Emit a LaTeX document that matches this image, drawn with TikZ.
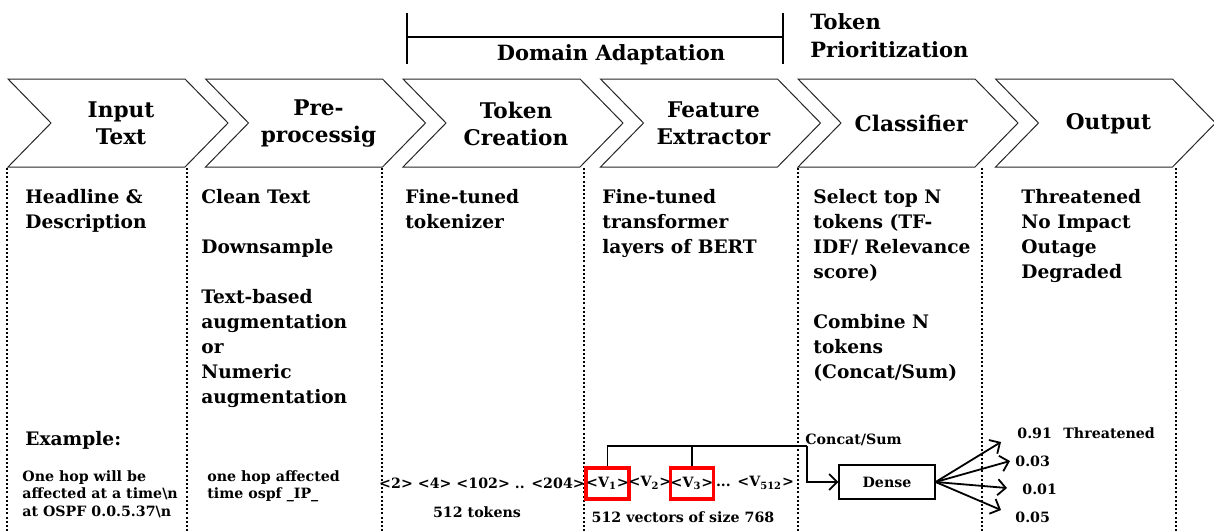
\documentclass[tikz,border=0pt]{standalone}
\usepackage{fontspec}
\setmainfont{DejaVu Serif}
\usetikzlibrary{arrows.meta,positioning}

\tikzstyle{chev}=[draw=black!85,line width=0.5pt]
\tikzstyle{chevlabel}=[align=center,inner sep=0pt,font=\bfseries\fontsize{10.8}{13.5}\selectfont]
\tikzstyle{headtext}=[align=left,inner sep=0pt,font=\bfseries\fontsize{10.5}{14}\selectfont]
\tikzstyle{coltext}=[align=left,anchor=north west,inner sep=0pt,font=\bfseries\fontsize{9.3}{12.5}\selectfont]
\tikzstyle{smalltext}=[align=left,inner sep=0pt,font=\bfseries\fontsize{7.1}{8.7}\selectfont]
\tikzstyle{dotline}=[line width=1.3pt,dash pattern=on 1pt off 1.1pt]
\tikzstyle{vbox}=[draw=red,line width=1.8pt,minimum width=20.5pt,minimum height=15.5pt,inner sep=0pt]
\tikzstyle{link}=[line width=0.9pt]
\tikzstyle{arr}=[line width=0.9pt,-{Straight Barb[length=4pt,width=8pt]}]

\begin{document}
\begin{tikzpicture}[x=0.5pt,y=-0.5pt]
  \useasboundingbox (0,0) rectangle (1214,531);

  % bracket over the two middle stages
  \draw[line width=0.8pt] (407,13) -- (407,64);
  \draw[line width=0.8pt] (407,37) -- (783,37);
  \draw[line width=0.8pt] (783,13) -- (783,64);
  \node[headtext] (dom) at (611,55) {Domain Adaptation};
  \node[headtext,anchor=west] (prio) at (810,36) {Token\\Prioritization};

  % the six stages
  \foreach \i/\nm/\lbl in {0/inp/{Input\\Text},1/pre/{Pre-\\processig},2/tok/{Token\\Creation},3/feat/{Feature\\Extractor},4/cls/{Classifier},5/out/{Output}}{
    \draw[chev] ({8+197.5*\i},79) -- ++(177,0) -- ++(43,44) -- ++(-43,44) -- ++(-177,0) -- ++(43,-44) -- cycle;
    \node[chevlabel] (\nm) at ({121+197.5*\i},123.5) {\lbl};
  }

  % column separators
  \foreach \x in {7,187,382,584,798,982,1176}
    \draw[dotline] (\x,168) -- (\x,531);

  % column texts
  \node[coltext] (c1) at (25,189) {Headline \&\\Description};
  \node[coltext] (c2) at (201,189) {Clean Text\\[12.5pt]Downsample\\[12.5pt]Text-based\\augmentation\\or\\Numeric\\augmentation};
  \node[coltext] (c3) at (405,189) {Fine-tuned\\tokenizer};
  \node[coltext] (c4) at (602,189) {Fine-tuned\\transformer\\layers of BERT};
  \node[coltext] (c5) at (813,189) {Select top N\\tokens (TF-\\IDF/ Relevance\\score)\\[12.5pt]Combine N\\tokens\\(Concat/Sum)};
  \node[coltext] (c6) at (1021,189) {Threatened\\No Impact\\Outage\\Degraded};

  % example row
  \node[coltext,anchor=west] (ex) at (25,440) {Example:};
  \node[smalltext,anchor=north west] (exin) at (22,470) {One hop will be\\affected at a time\textbackslash n\\at OSPF 0.0.5.37\textbackslash n};
  \node[smalltext,anchor=north west] (expre) at (207,470) {one hop affected\\time ospf \_IP\_};
  \node[smalltext] (toks) at (482,483) {<2> <4> <102> .. <204>};
  \node[smalltext] (ntok) at (477,512) {512 tokens};
  \node[smalltext,vbox] (v1) at (607.5,483.5) {<V\textsubscript{1}>};
  \node[smalltext] (v2) at (650,483) {<V\textsubscript{2}>};
  \node[smalltext,vbox] (v3) at (692,483.5) {<V\textsubscript{3}>};
  \node[smalltext] (vlast) at (755,483) {... <V\textsubscript{512}>};
  \node[smalltext] (nvec) at (683,517) {512 vectors of size 768};

  \node[smalltext,draw,line width=0.6pt,minimum width=48pt,minimum height=17pt,align=center] (dense) at (887,482) {Dense};
  \coordinate (cs) at (807,446);
  \draw[link] (v1.north) -- (v1.north |- cs) -- (cs);
  \draw[link] (v3.north) -- (v3.north |- cs);
  \draw[arr] (cs) |- (dense.west);
  \node[smalltext,anchor=west] (concat) at (805,440) {Concat/Sum};

  % class scores
  \node[smalltext,anchor=west] (p1) at (1017,433) {0.91};
  \node[smalltext,anchor=west] (thr) at (1063,433) {Threatened};
  \node[smalltext,anchor=west] (p2) at (1015,461) {0.03};
  \node[smalltext,anchor=west] (p3) at (1022,489) {0.01};
  \node[smalltext,anchor=west] (p4) at (1015,517) {0.05};
  \coordinate (o1) at (1001,442);
  \coordinate (o2) at (1010,461);
  \coordinate (o3) at (1007,488);
  \coordinate (o4) at (1001,510);
  \foreach \o in {o1,o2,o3,o4}
    \draw[arr] (dense.east) -- (\o);
\end{tikzpicture}
\end{document}
